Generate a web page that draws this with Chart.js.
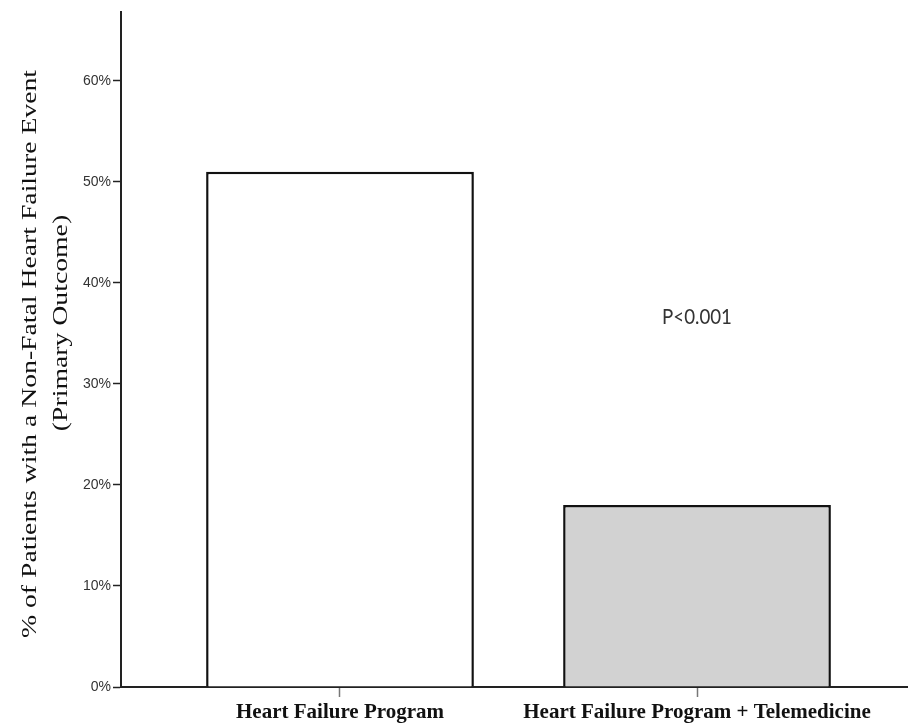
<!doctype html><html lang="en">
<head>
<meta charset="utf-8">
<title>Non-fatal heart failure events</title>
<script src="https://cdn.jsdelivr.net/npm/chart.js@4"></script>
<style>
html,body{margin:0;padding:0;background:#fff}
#wrap{width:908px;height:723px}
</style>
</head>
<body>
<div id="wrap"><canvas id="chart" width="908" height="723"></canvas></div>
<script>
// values
const categories = ['Heart Failure Program', 'Heart Failure Program + Telemedicine'];
const values = [51, 18];
const barColors = ['#ffffff', '#d2d2d2'];
const yTickValues = [0, 10, 20, 30, 40, 50, 60];
const yTitleLines = ['% of Patients with a Non-Fatal Heart Failure Event', '(Primary Outcome)'];
const pText = 'P<0.001';
const pAt = [1, 36.6]; // category index, % level

// axis titles + p value, drawn stretched like the scanned original
const textPlugin = {
  id: 'texts',
  afterDraw(chart) {
    const ctx = chart.ctx, a = chart.chartArea;
    const x = chart.scales.x, y = chart.scales.y;
    ctx.save();
    ctx.fillStyle = '#111';
    ctx.font = '22px "Liberation Serif", "Times New Roman", serif';
    ctx.textAlign = 'center';
    ctx.textBaseline = 'alphabetic';
    const pos = [[a.left - 85, 354], [a.left - 54, 323]];
    yTitleLines.forEach((t, i) => {
      ctx.save();
      ctx.translate(pos[i][0], pos[i][1]);
      ctx.rotate(-Math.PI / 2);
      ctx.scale(1.26, 1);
      ctx.fillText(t, 0, 0);
      ctx.restore();
    });
    ctx.fillStyle = '#333';
    ctx.font = '18px Lato, sans-serif';
    ctx.textBaseline = 'middle';
    ctx.translate(x.getPixelForValue(pAt[0]), y.getPixelForValue(pAt[1]));
    ctx.scale(1.04, 1.22);
    ctx.fillText(pText, 0, 0);
    ctx.restore();
  }
};

new Chart(document.getElementById('chart'), {
  type: 'bar',
  data: {
    datasets: [{
      data: values.map((v, i) => ({x: i, y: v})),
      backgroundColor: barColors,
      borderColor: '#111',
      borderWidth: 2.5,
      barPercentage: 0.75,
      categoryPercentage: 1
    }]
  },
  options: {
    responsive: false,
    animation: false,
    layout: {padding: {top: 12, right: 0, bottom: 0, left: 0}},
    plugins: {legend: {display: false}, tooltip: {enabled: false}},
    scales: {
      x: {
        type: 'linear',
        offset: false,
        bounds: 'data',
        min: -0.6134,
        max: 1.591,
        afterBuildTicks: s => { s.ticks = categories.map((c, i) => ({value: i})); },
        afterFit: s => { s.height = 36; },
        grid: {offset: false, drawOnChartArea: false, tickLength: 10, tickColor: '#777', tickWidth: 1.5},
        border: {display: true, color: '#222', width: 2},
        ticks: {
          autoSkip: false, maxRotation: 0, padding: 3, color: '#111',
          font: {family: '"Liberation Serif", "Times New Roman", serif', size: 21, weight: 'bold'},
          callback: v => categories[v]
        }
      },
      y: {
        min: 0,
        max: 66.8,
        afterBuildTicks: s => { s.ticks = yTickValues.map(v => ({value: v})); },
        afterFit: s => { s.width = 121; },
        grid: {drawOnChartArea: false, tickLength: 8, tickColor: '#222', tickWidth: 1.5},
        border: {display: true, color: '#222', width: 2},
        ticks: {
          padding: 2, color: '#333',
          font: {family: '"Liberation Sans", Arial, sans-serif', size: 14},
          callback: v => v + '%'
        }
      }
    }
  },
  plugins: [textPlugin]
});
</script>
</body></html>
